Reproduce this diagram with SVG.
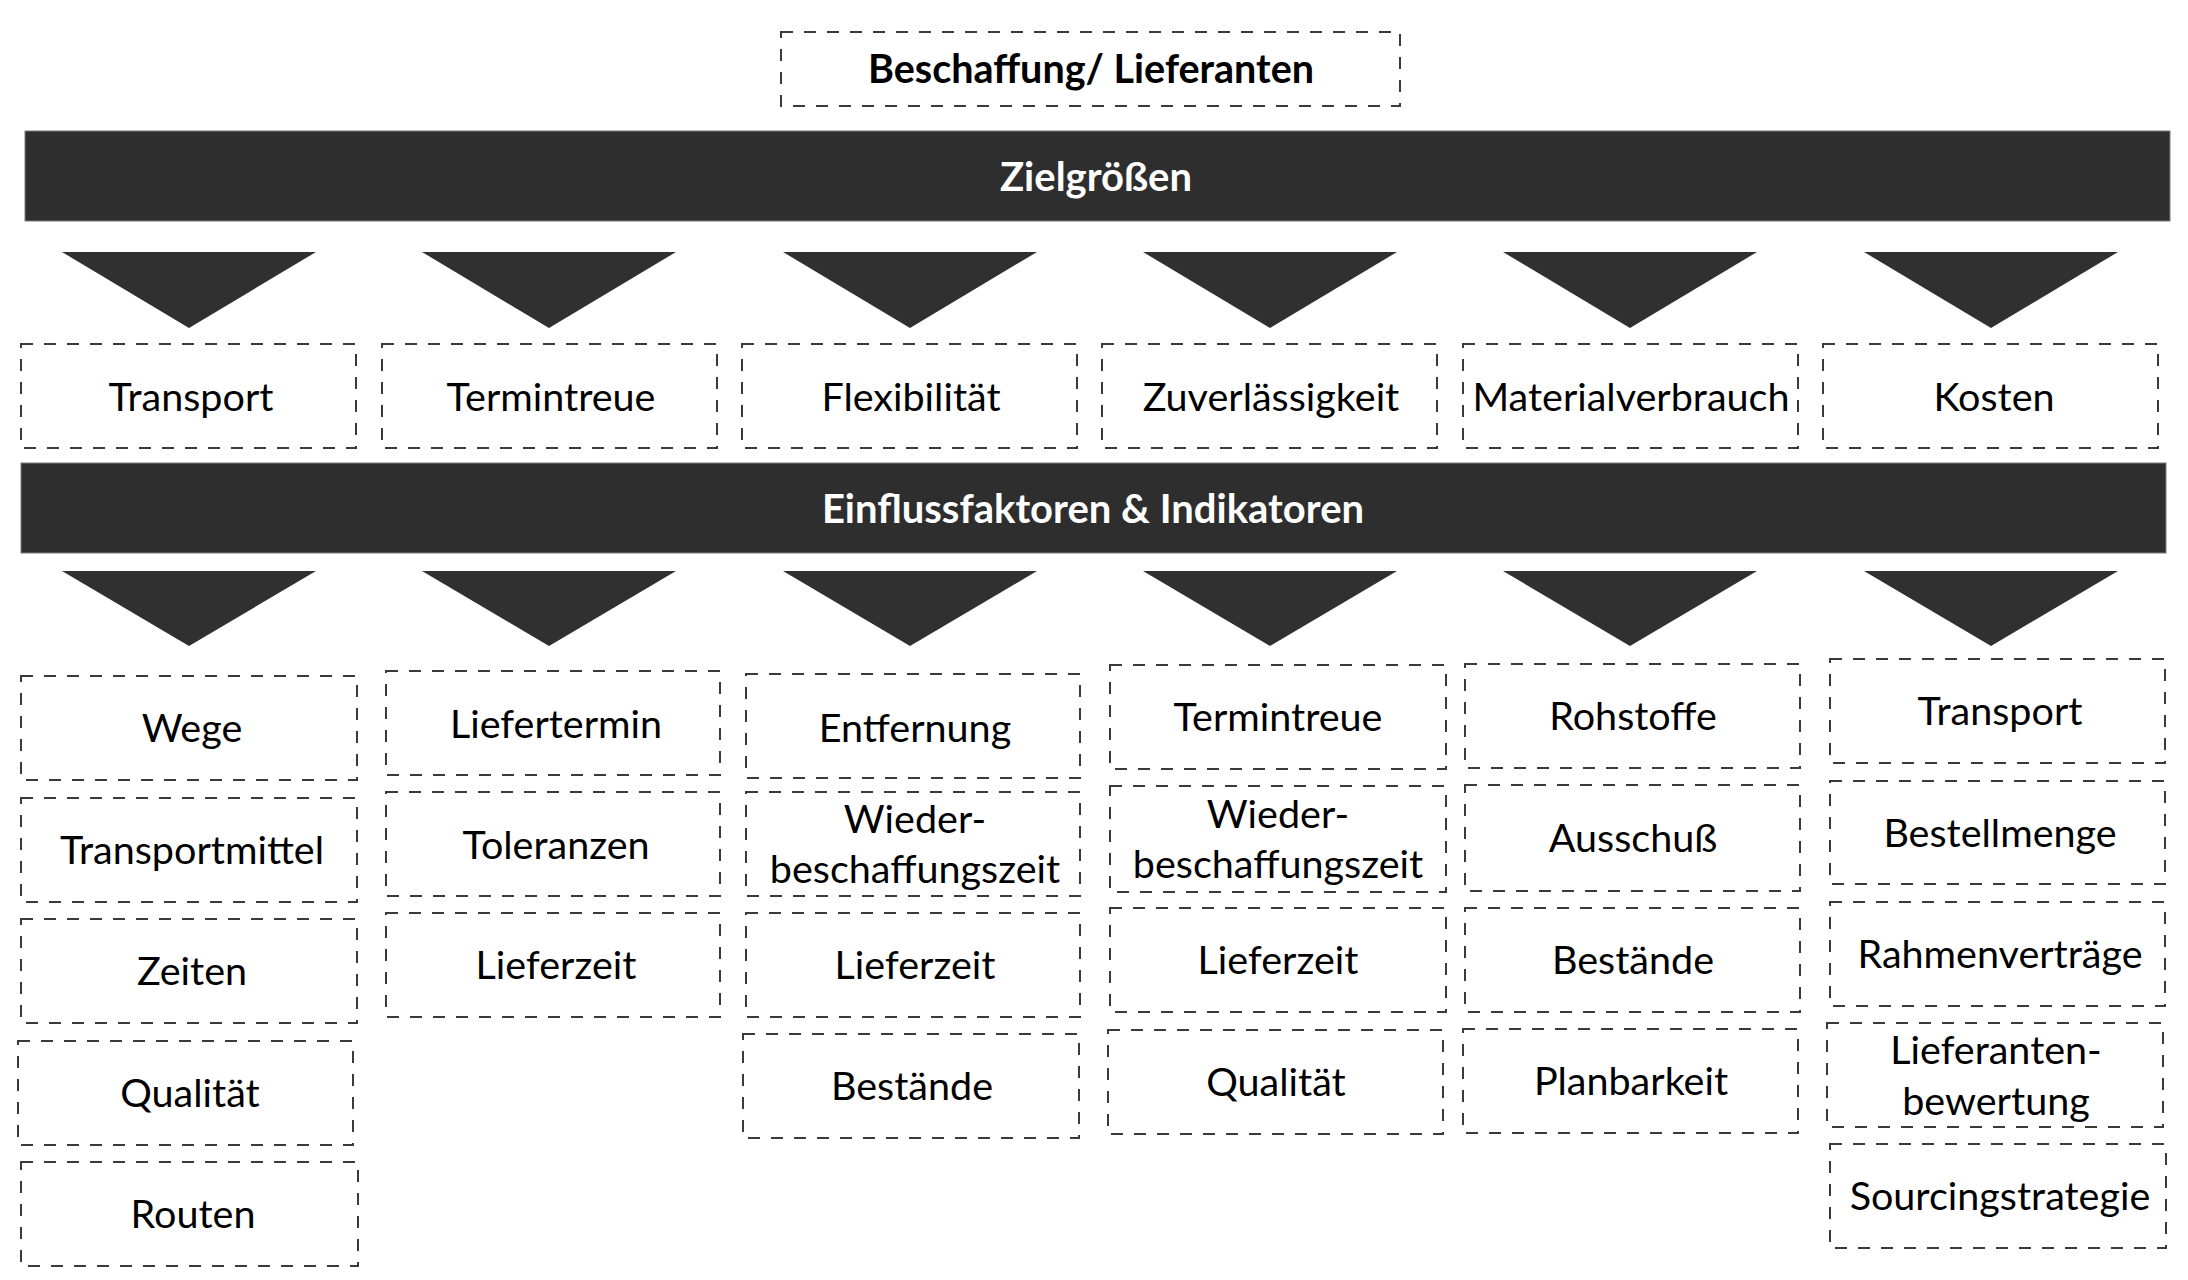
<svg xmlns="http://www.w3.org/2000/svg" width="2188" height="1280" viewBox="0 0 2188 1280">
<style>
.b{fill:none;stroke:#3a3a3a;stroke-width:2;stroke-dasharray:12 11}
.t{font-family:Lato,"Liberation Sans",sans-serif;font-size:39.5px;text-anchor:middle;fill:#000}
.tb{font-family:Lato,"Liberation Sans",sans-serif;font-weight:bold;text-anchor:middle}
.bar{fill:#2e2e2e;stroke:#7a7a7a;stroke-width:1}
.tri{fill:#303030}
</style>
<rect width="2188" height="1280" fill="#fff"/>
<g id="title"><rect class="b" x="781" y="32" width="619" height="74"/><text class="tb" x="1091" y="83" font-size="39.5" fill="#000">Beschaffung/ Lieferanten</text></g>
<g id="zielgroessen"><rect class="bar" x="25" y="131" width="2145" height="90"/><text class="tb" x="1096" y="191" font-size="40" fill="#fff">Zielgrößen</text></g>
<g id="einfluss"><rect class="bar" x="21" y="463" width="2145" height="90"/><text class="tb" x="1093" y="523" font-size="40" fill="#fff">Einflussfaktoren &amp; Indikatoren</text></g>
<g id="connectors">
<polygon class="tri" points="62,252 316,252 189,328"/>
<polygon class="tri" points="422,252 676,252 549,328"/>
<polygon class="tri" points="783,252 1037,252 910,328"/>
<polygon class="tri" points="1143,252 1397,252 1270,328"/>
<polygon class="tri" points="1503,252 1757,252 1630,328"/>
<polygon class="tri" points="1864,252 2118,252 1991,328"/>
<polygon class="tri" points="62,571 316,571 189,646"/>
<polygon class="tri" points="422,571 676,571 549,646"/>
<polygon class="tri" points="783,571 1037,571 910,646"/>
<polygon class="tri" points="1143,571 1397,571 1270,646"/>
<polygon class="tri" points="1503,571 1757,571 1630,646"/>
<polygon class="tri" points="1864,571 2118,571 1991,646"/>
</g>
<g id="z1"><rect class="b" x="21" y="344" width="335" height="104"/><text class="t" x="191" y="411">Transport</text></g>
<g id="z2"><rect class="b" x="382" y="344" width="335" height="104"/><text class="t" x="551" y="411">Termintreue</text></g>
<g id="z3"><rect class="b" x="742" y="344" width="335" height="104"/><text class="t" x="911" y="411">Flexibilität</text></g>
<g id="z4"><rect class="b" x="1102" y="344" width="335" height="104"/><text class="t" x="1271" y="411">Zuverlässigkeit</text></g>
<g id="z5"><rect class="b" x="1463" y="344" width="335" height="104"/><text class="t" x="1631" y="411">Materialverbrauch</text></g>
<g id="z6"><rect class="b" x="1823" y="344" width="335" height="104"/><text class="t" x="1994" y="411">Kosten</text></g>

<g id="c1a"><rect class="b" x="21" y="676" width="336" height="104"/><text class="t" x="192" y="742">Wege</text></g>
<g id="c1b"><rect class="b" x="21" y="798" width="336" height="104"/><text class="t" x="192" y="864">Transportmittel</text></g>
<g id="c1c"><rect class="b" x="21" y="919" width="336" height="104"/><text class="t" x="192" y="985">Zeiten</text></g>
<g id="c1d"><rect class="b" x="18" y="1041" width="335" height="104"/><text class="t" x="190" y="1107">Qualität</text></g>
<g id="c1e"><rect class="b" x="21" y="1162" width="337" height="104"/><text class="t" x="193" y="1228">Routen</text></g>

<g id="c2a"><rect class="b" x="386" y="671" width="334" height="104"/><text class="t" x="556" y="738">Liefertermin</text></g>
<g id="c2b"><rect class="b" x="386" y="792" width="334" height="104"/><text class="t" x="556" y="859">Toleranzen</text></g>
<g id="c2c"><rect class="b" x="386" y="913" width="334" height="104"/><text class="t" x="556" y="979">Lieferzeit</text></g>

<g id="c3a"><rect class="b" x="746" y="674" width="334" height="104"/><text class="t" x="915" y="742">Entfernung</text></g>
<g id="c3b"><rect class="b" x="746" y="792" width="334" height="104"/><text class="t" x="915" y="833">Wieder-</text><text class="t" x="915" y="883">beschaffungszeit</text></g>
<g id="c3c"><rect class="b" x="746" y="913" width="334" height="104"/><text class="t" x="915" y="979">Lieferzeit</text></g>
<g id="c3d"><rect class="b" x="743" y="1034" width="336" height="104"/><text class="t" x="912" y="1100">Bestände</text></g>

<g id="c4a"><rect class="b" x="1110" y="665" width="336" height="104"/><text class="t" x="1278" y="731">Termintreue</text></g>
<g id="c4b"><rect class="b" x="1110" y="786" width="336" height="106"/><text class="t" x="1278" y="828">Wieder-</text><text class="t" x="1278" y="878">beschaffungszeit</text></g>
<g id="c4c"><rect class="b" x="1110" y="908" width="336" height="104"/><text class="t" x="1278" y="974">Lieferzeit</text></g>
<g id="c4d"><rect class="b" x="1108" y="1030" width="335" height="104"/><text class="t" x="1276" y="1096">Qualität</text></g>

<g id="c5a"><rect class="b" x="1465" y="664" width="335" height="104"/><text class="t" x="1633" y="730">Rohstoffe</text></g>
<g id="c5b"><rect class="b" x="1465" y="785" width="335" height="106"/><text class="t" x="1633" y="852">Ausschuß</text></g>
<g id="c5c"><rect class="b" x="1465" y="908" width="335" height="104"/><text class="t" x="1633" y="974">Bestände</text></g>
<g id="c5d"><rect class="b" x="1463" y="1029" width="335" height="104"/><text class="t" x="1631" y="1095">Planbarkeit</text></g>

<g id="c6a"><rect class="b" x="1830" y="659" width="335" height="104"/><text class="t" x="2000" y="725">Transport</text></g>
<g id="c6b"><rect class="b" x="1830" y="781" width="335" height="103"/><text class="t" x="2000" y="847">Bestellmenge</text></g>
<g id="c6c"><rect class="b" x="1830" y="902" width="335" height="104"/><text class="t" x="2000" y="968">Rahmenverträge</text></g>
<g id="c6d"><rect class="b" x="1827" y="1023" width="336" height="104"/><text class="t" x="1996" y="1064">Lieferanten-</text><text class="t" x="1996" y="1115">bewertung</text></g>
<g id="c6e"><rect class="b" x="1830" y="1144" width="336" height="104"/><text class="t" x="2000" y="1210">Sourcingstrategie</text></g>
</svg>
